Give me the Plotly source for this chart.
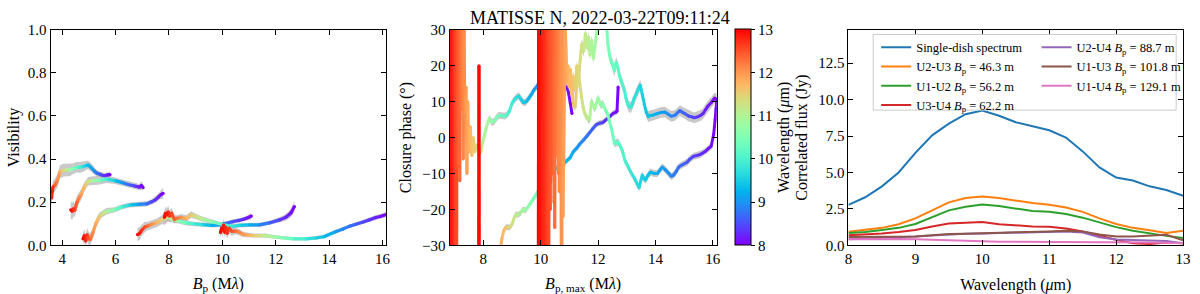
import math
import plotly.graph_objects as go

FONT = "Liberation Serif"

# ---------------- right panel: correlated flux spectra ----------------
wavelength = [8.0, 8.25, 8.5, 8.75, 9.0, 9.25, 9.5, 9.75, 10.0, 10.25, 10.5,
              10.75, 11.0, 11.25, 11.5, 11.75, 12.0, 12.25, 12.5, 12.75, 13.0]
flux_single = [2.78, 3.3, 4.05, 5.0, 6.35, 7.55, 8.35, 9.0, 9.25, 8.9, 8.45,
               8.2, 7.9, 7.4, 6.45, 5.35, 4.65, 4.45, 4.05, 3.8, 3.4]
flux_U2U3 = [0.93, 1.05, 1.2, 1.45, 1.85, 2.4, 2.95, 3.25, 3.35, 3.25, 3.05,
             2.9, 2.78, 2.6, 2.3, 1.85, 1.47, 1.2, 1.04, 0.85, 1.0]
flux_U1U2 = [0.85, 0.92, 1.05, 1.2, 1.47, 1.95, 2.4, 2.65, 2.8, 2.7, 2.5,
             2.35, 2.3, 2.15, 1.9, 1.55, 1.25, 1.0, 0.8, 0.65, 0.5]
flux_U3U4 = [0.7, 0.75, 0.82, 0.92, 1.05, 1.3, 1.5, 1.55, 1.6, 1.45, 1.35,
             1.3, 1.28, 1.15, 0.95, 0.65, 0.38, 0.15, 0.1, 0.2, 0.15]
flux_U2U4 = [0.42, 0.46, 0.5, 0.55, 0.6, 0.68, 0.75, 0.8, 0.82, 0.84, 0.85,
             0.87, 0.9, 0.95, 0.88, 0.55, 0.4, 0.35, 0.3, 0.3, 0.15]
flux_U1U3 = [0.58, 0.58, 0.58, 0.59, 0.6, 0.7, 0.78, 0.8, 0.82, 0.85, 0.87,
             0.9, 0.95, 1.0, 0.95, 0.75, 0.6, 0.6, 0.65, 0.72, 0.35]
flux_U1U4 = [0.42, 0.44, 0.45, 0.44, 0.42, 0.38, 0.35, 0.3, 0.25, 0.25, 0.25,
             0.25, 0.25, 0.25, 0.25, 0.24, 0.22, 0.21, 0.2, 0.18, 0.15]

spectra_names = ["Single-dish spectrum",
                 "U2-U3 <i>B</i><sub>p</sub> = 46.3 m",
                 "U1-U2 <i>B</i><sub>p</sub> = 56.2 m",
                 "U3-U4 <i>B</i><sub>p</sub> = 62.2 m",
                 "U2-U4 <i>B</i><sub>p</sub> = 88.7 m",
                 "U1-U3 <i>B</i><sub>p</sub> = 101.8 m",
                 "U1-U4 <i>B</i><sub>p</sub> = 129.1 m"]
spectra_values = [flux_single, flux_U2U3, flux_U1U2, flux_U3U4, flux_U2U4, flux_U1U3, flux_U1U4]
spectra_colors = ["#1f77b4", "#ff7f0e", "#2ca02c", "#d62728", "#9467bd", "#8c564b", "#e377c2"]
spectra_legend = ["legend", "legend", "legend", "legend", "legend2", "legend2", "legend2"]

# ---------------- left panel: visibilities ----------------
baseline_len = {"U2-U3": 46.3, "U1-U2": 56.2, "U3-U4": 62.2,
                "U2-U4": 88.7, "U1-U3": 101.8, "U1-U4": 129.1}

bp_U2U3 = [3.56, 3.6, 3.65, 3.73, 3.82, 3.91, 4.04, 4.16, 4.28, 4.4, 4.53, 4.65,
           4.78, 4.9, 4.97, 5.09, 5.2, 5.28, 5.41, 5.5, 5.6, 5.7, 5.79]
vis_U2U3 = [0.25, 0.22, 0.27, 0.28, 0.3, 0.34, 0.348, 0.35, 0.35, 0.355, 0.363, 0.362,
            0.365, 0.37, 0.373, 0.36, 0.345, 0.336, 0.33, 0.325, 0.323, 0.327, 0.328]
err_U2U3 = [0.03, 0.03, 0.03, 0.03, 0.03, 0.03, 0.03, 0.03, 0.03, 0.025, 0.025, 0.025,
            0.025, 0.02, 0.02, 0.02, 0.015, 0.015, 0.012, 0.012, 0.012, 0.012, 0.012]

bp_U1U2 = [4.32, 4.37, 4.42, 4.47, 4.55, 4.63, 4.72, 4.84, 4.97, 5.16, 5.41, 5.66,
           5.97, 6.22, 6.47, 6.72, 6.9, 6.97, 7.03]
vis_U1U2 = [0.165, 0.158, 0.17, 0.162, 0.2, 0.22, 0.238, 0.275, 0.297, 0.3, 0.302, 0.307,
            0.3, 0.292, 0.282, 0.275, 0.27, 0.278, 0.268]
err_U1U2 = [0.04, 0.04, 0.035, 0.03, 0.03, 0.025, 0.025, 0.02, 0.02, 0.02, 0.02, 0.018,
            0.015, 0.015, 0.015, 0.015, 0.015, 0.02, 0.015]

bp_U3U4 = [4.78, 4.83, 4.88, 4.93, 4.98, 5.04, 5.1, 5.16, 5.28, 5.38, 5.47, 5.66,
           5.97, 6.22, 6.53, 6.85, 7.16, 7.35, 7.5, 7.6, 7.7, 7.78]
vis_U3U4 = [0.03, 0.045, 0.02, 0.05, 0.035, 0.026, 0.04, 0.063, 0.107, 0.13, 0.143, 0.158,
            0.165, 0.178, 0.187, 0.19, 0.192, 0.202, 0.212, 0.224, 0.235, 0.241]
err_U3U4 = [0.03, 0.03, 0.03, 0.03, 0.03, 0.03, 0.025, 0.025, 0.02, 0.02, 0.015, 0.015,
            0.012, 0.012, 0.012, 0.012, 0.012, 0.012, 0.015, 0.015, 0.02, 0.025]

bp_U2U4 = [6.82, 6.9, 6.98, 7.09, 7.2, 7.4, 7.55, 7.72, 7.85, 7.95, 8.15, 8.4,
           8.65, 8.9, 9.27, 9.6, 9.9, 10.1, 10.39, 10.6, 10.77, 10.95, 11.09]
vis_U2U4 = [0.05, 0.055, 0.07, 0.085, 0.09, 0.1, 0.105, 0.118, 0.125, 0.13, 0.12, 0.112,
            0.104, 0.1, 0.096, 0.093, 0.095, 0.1, 0.11, 0.115, 0.12, 0.128, 0.136]
err_U2U4 = [0.03, 0.03, 0.025, 0.025, 0.02, 0.02, 0.02, 0.02, 0.03, 0.02, 0.015, 0.012,
            0.012, 0.01, 0.01, 0.01, 0.01, 0.01, 0.01, 0.01, 0.01, 0.012, 0.015]

bp_U1U3 = [7.83, 7.87, 7.92, 7.97, 8.03, 8.1, 8.2, 8.3, 8.45, 8.65, 8.83, 9.02,
           9.27, 9.58, 9.9, 10.2, 10.39, 10.64, 11.02, 11.39, 11.76, 12.14, 12.38, 12.57, 12.7]
vis_U1U3 = [0.13, 0.15, 0.14, 0.155, 0.135, 0.15, 0.12, 0.125, 0.13, 0.124, 0.143, 0.133,
            0.121, 0.11, 0.1, 0.092, 0.088, 0.093, 0.095, 0.095, 0.104, 0.118, 0.13, 0.15, 0.18]
err_U1U3 = [0.03, 0.03, 0.03, 0.03, 0.025, 0.025, 0.02, 0.015, 0.015, 0.015, 0.015, 0.012,
            0.012, 0.01, 0.01, 0.01, 0.01, 0.01, 0.01, 0.01, 0.01, 0.012, 0.015, 0.02, 0.025]

bp_U1U4 = [9.93, 9.97, 10.01, 10.05, 10.09, 10.13, 10.18, 10.25, 10.35, 10.52, 10.65, 10.77,
           10.95, 11.14, 11.4, 11.64, 11.9, 12.14, 12.4, 12.64, 13.13, 13.5, 13.8, 14.24,
           14.5, 14.75, 15.0, 15.25, 15.5, 15.75, 15.95, 16.14]
vis_U1U4 = [0.06, 0.08, 0.07, 0.095, 0.06, 0.085, 0.055, 0.08, 0.065, 0.066, 0.06, 0.051,
            0.048, 0.045, 0.045, 0.045, 0.04, 0.037, 0.033, 0.031, 0.03, 0.034, 0.04, 0.063,
            0.075, 0.088, 0.098, 0.107, 0.118, 0.129, 0.135, 0.143]
err_U1U4 = [0.03, 0.03, 0.03, 0.03, 0.03, 0.03, 0.025, 0.025, 0.02, 0.015, 0.015, 0.012,
            0.01, 0.01, 0.01, 0.01, 0.008, 0.008, 0.008, 0.008, 0.008, 0.008, 0.008, 0.008,
            0.008, 0.008, 0.01, 0.01, 0.01, 0.012, 0.012, 0.012]

vis_sets = [("U2-U3", bp_U2U3, vis_U2U3, err_U2U3),
            ("U1-U2", bp_U1U2, vis_U1U2, err_U1U2),
            ("U3-U4", bp_U3U4, vis_U3U4, err_U3U4),
            ("U2-U4", bp_U2U4, vis_U2U4, err_U2U4),
            ("U1-U3", bp_U1U3, vis_U1U3, err_U1U3),
            ("U1-U4", bp_U1U4, vis_U1U4, err_U1U4)]

# ---------------- middle panel: closure phases ----------------
# triangle U2-U3-U4 (longest baseline 88.7 m); noisy part runs far off-scale
cpA_noisy_x = [6.82, 6.84, 6.86, 6.88, 6.9, 6.92, 6.97, 6.99, 7.01, 7.03, 7.05, 7.07, 7.09,
               7.12, 7.15, 7.18, 7.21, 7.24, 7.27, 7.3, 7.33, 7.36, 7.4, 7.43, 7.46, 7.5,
               7.55, 7.6, 7.65, 7.7, 7.75]
cpA_noisy_y = [-80, 80, -80, 80, -80, 80, 85, -80, 80, -80, 80, -80, 80,
               -8, 60, -12, 50, 8, 45, -6, 30, 6, 14, -10, 10, -4, 3, -5, 0, -4, -2]
cpA_x = [7.8, 7.86, 7.92, 7.98, 8.04, 8.09, 8.15, 8.21, 8.3, 8.38, 8.46, 8.55, 8.67, 8.78,
         8.9, 9.01, 9.13, 9.24, 9.32, 9.41, 9.5, 9.59, 9.68, 9.76, 9.85, 9.93, 10.01, 10.1,
         10.16, 10.22, 10.3, 10.39, 10.47, 10.56, 10.62, 10.68, 10.74, 10.79, 10.85, 10.91,
         10.97, 11.03, 11.09]
cpA_y = [-3.4, -2.5, -4, -1.2, 0.5, 2.3, 4, 5.3, 4.2, 4.5, 5.5, 6.2, 6, 6, 7.1, 9.7, 11, 11.6,
         10.5, 9.7, 10, 11, 12, 13.2, 14, 15, 15.2, 15.4, 15.1, 15.9, 15.2, 14.1, 13.2, 12.4,
         11.5, 11.8, 12.8, 13.2, 14, 14.1, 12.5, 9.7, 6.7]
cpA_err = 1.0

# triangle U1-U2-U3 (longest baseline 101.8 m)
cpB_noisy_x = [7.83, 7.85, 7.87, 7.95, 8.1, 8.3, 8.5, 8.6]
cpB_noisy_y = [-80, 20, -80, -60, -50, -45, -38, -31]
cpB_x = [8.65, 8.72, 8.78, 8.84, 8.93, 9.01, 9.07, 9.13, 9.2, 9.3, 9.38, 9.47, 9.55, 9.64,
         9.75, 9.87, 9.95, 10.04, 10.13, 10.22, 10.33, 10.45, 10.55, 10.62, 10.7, 10.79, 10.9,
         11.03, 11.14, 11.25, 11.36, 11.48, 11.6, 11.71, 11.82, 11.94, 12.05, 12.17, 12.25,
         12.34, 12.43, 12.52, 12.63, 12.66, 12.7]
cpB_y = [-28, -25.8, -25, -24.9, -25, -24, -22.5, -21.4, -21.5, -21, -20, -20.3, -19.5, -18.3,
         -17, -15.6, -14, -13, -12.8, -11.8, -10.5, -9.6, -8.5, -8.2, -8, -7.4, -6.5, -5.6,
         -3.9, -3, -1.8, -0.8, 0.3, 1.4, 2.5, 3.6, 4, 4.2, 4.8, 5.3, 6, 6.7, 7.1, 7.3, 14.1]
cpB_err = 0.8

# triangle U1-U3-U4 (longest baseline 129.1 m)
cpC_noisy_x = [9.91, 9.935, 9.96, 9.985, 10.01, 10.035, 10.06, 10.085, 10.11, 10.135, 10.16,
               10.2, 10.22, 10.24, 10.26, 10.28, 10.3, 10.33, 10.37, 10.41, 10.45, 10.49,
               10.53, 10.57, 10.61, 10.65, 10.69, 10.73, 10.76, 10.8, 10.83, 10.9]
cpC_noisy_y = [-80, 80, -80, 80, -80, 80, -80, 80, -80, 80, -80,
               -85, 80, -80, 80, -80, 80, -20, 60, -10, 60, -25, 60, -5, 60, -15, 60, -80,
               60, -8, 40, 16]
cpC_x = [10.97, 11.03, 11.09, 11.15, 11.2, 11.26, 11.31, 11.37, 11.43, 11.5, 11.56, 11.62,
         11.67, 11.72, 11.78, 11.84, 11.9, 11.95, 12.02, 12.1, 12.2, 12.3, 12.34, 12.4, 12.46,
         12.52, 12.57, 12.63, 12.69, 12.75, 12.8, 12.86, 12.92, 12.97, 13.03, 13.09, 13.15,
         13.2, 13.26, 13.32, 13.4, 13.47, 13.54, 13.61, 13.68, 13.75, 13.83, 13.9, 14.0,
         14.07, 14.2, 14.33, 14.45, 14.55, 14.68, 14.78, 14.85, 14.95, 15.02, 15.15, 15.25,
         15.35, 15.48, 15.58, 15.66, 15.75, 15.83, 15.94, 16.06, 16.14]
cpC_y = [14.6, 19, 12, 17, 13, 20, 15, 21, 26, 24, 29, 25, 28, 23, 27, 22, 26, 29, 34, 40,
         38, 31, 26, 23, 21, 20, 18.5, 21, 19.5, 17, 15.9, 14.5, 13.2, 11, 9.3, 8.5, 8.4, 9.5,
         11, 11.9, 13.5, 14.6, 12, 9.3, 7, 5.8, 6.2, 6.2, 6.5, 6.7, 7, 7.1, 6.5, 5.9, 6.2, 7,
         7.5, 7, 6.7, 6, 5.8, 5.5, 5.8, 6.2, 6.7, 7.8, 8.8, 9.7, 11, 10.6]
cpC_err = 1.5

# triangle U1-U2-U4 (longest baseline 129.1 m)
cpD_noisy_x = [9.93, 10.3, 10.35, 10.4, 10.47, 10.55, 10.62, 10.7, 10.78, 10.85, 10.9]
cpD_noisy_y = [80, 90, -12, 70, -18, 60, -10, 50, -22, 35, 18]
cpD_x = [10.95, 11.0, 11.05, 11.1, 11.15, 11.2, 11.25, 11.31, 11.37, 11.43, 11.48, 11.54,
         11.6, 11.66, 11.71, 11.77, 11.83, 11.89, 11.94, 12.0, 12.05, 12.1, 12.16, 12.21,
         12.27, 12.33, 12.4, 12.46, 12.52, 12.57, 12.63, 12.69, 12.75, 12.8, 12.86, 12.92,
         12.97, 13.03, 13.1, 13.2, 13.28, 13.37, 13.43, 13.49, 13.54, 13.6, 13.66, 13.74,
         13.83, 13.95, 14.07, 14.16, 14.24, 14.35, 14.47, 14.55, 14.64, 14.72, 14.81, 14.95,
         15.1, 15.2, 15.33, 15.45, 15.56, 15.65, 15.73, 15.85, 15.94, 16.03, 16.08, 16.11, 16.14]
cpD_y = [20, 14, 18, 12, 9, 8.4, 13, 18.9, 14.6, 11, 8.4, 6.5, 5.8, 5, 4.9, 10.2, 9, 8, 9.5,
         11, 10, 8.9, 9.5, 8.4, 7.5, 6.7, 4.5, 2.7, 0.5, -1.7, -1.5, -1.2, -2, -2.8, -4, -6,
         -7, -7.8, -9, -10.4, -11.5, -13, -14, -12, -10.4, -11.5, -11.8, -10.5, -9.6, -10,
         -10, -9, -8.2, -9, -10, -10.8, -10.4, -9.5, -8.2, -7.5, -6.9, -6, -5.2, -5, -4.7,
         -4.3, -3.9, -3, -2.5, 1, 5, 8, 10.6]
cpD_err = 1.0

phase_sets = [(88.7, cpA_noisy_x, cpA_noisy_y, cpA_x, cpA_y, cpA_err),
              (101.8, cpB_noisy_x, cpB_noisy_y, cpB_x, cpB_y, cpB_err),
              (129.1, cpC_noisy_x, cpC_noisy_y, cpC_x, cpC_y, cpC_err),
              (129.1, cpD_noisy_x, cpD_noisy_y, cpD_x, cpD_y, cpD_err)]

WL_MIN, WL_MAX = 8.0, 13.0
colorbar_ticks = [8, 9, 10, 11, 12, 13]


def rainbow(lam):
    """matplotlib 'rainbow' colormap evaluated at a wavelength."""
    t = (lam - WL_MIN) / (WL_MAX - WL_MIN)
    t = min(max(t, 0.0), 1.0)
    r = min(max(abs(2 * t - 0.5), 0.0), 1.0)
    g = min(max(math.sin(math.pi * t), 0.0), 1.0)
    b = min(max(math.cos(math.pi * t / 2), 0.0), 1.0)
    return "rgb(%d,%d,%d)" % (round(r * 255), round(g * 255), round(b * 255))


rainbow_scale = [[i / 20, rainbow(WL_MIN + (WL_MAX - WL_MIN) * i / 20)] for i in range(21)]

fig = go.Figure()
BAND = "rgba(165,165,165,0.6)"


def add_band(xs, lo, hi, xa, ya):
    fig.add_trace(go.Scatter(x=list(xs) + list(xs)[::-1], y=list(hi) + list(lo)[::-1],
                             fill="toself", fillcolor=BAND, line=dict(width=0),
                             mode="lines", hoverinfo="skip", showlegend=False,
                             xaxis=xa, yaxis=ya))


def add_gradient(xs, ys, B, xa, ya, width):
    for i in range(len(xs) - 1):
        lam = B / (0.5 * (xs[i] + xs[i + 1]))
        fig.add_trace(go.Scatter(x=[xs[i], xs[i + 1]], y=[ys[i], ys[i + 1]], mode="lines",
                                 line=dict(color=rainbow(lam), width=width),
                                 hoverinfo="skip", showlegend=False, xaxis=xa, yaxis=ya))
    fig.add_trace(go.Scatter(x=xs, y=ys, mode="markers",
                             marker=dict(size=width, color=[rainbow(B / x) for x in xs], line=dict(width=0)),
                             hoverinfo="skip", showlegend=False, xaxis=xa, yaxis=ya))


# left panel
for name, bx, v, e in vis_sets:
    add_band(bx, [a - b for a, b in zip(v, e)], [a + b for a, b in zip(v, e)], "x", "y")
for name, bx, v, e in vis_sets:
    add_gradient(bx, v, baseline_len[name], "x", "y", 3.2)

# middle panel
for B, nx, ny, px, py, pe in phase_sets:
    add_band(px, [a - pe for a in py], [a + pe for a in py], "x2", "y2")
for B, nx, ny, px, py, pe in phase_sets:
    add_gradient(nx + px, ny + py, B, "x2", "y2", 3.0)

# colorbar
fig.add_trace(go.Scatter(
    x=[None], y=[None], mode="markers", xaxis="x2", yaxis="y2", showlegend=False,
    marker=dict(color=[WL_MIN], cmin=WL_MIN, cmax=WL_MAX, colorscale=rainbow_scale, showscale=True,
                colorbar=dict(x=738 / 1200, xanchor="left", xref="paper", y=1 - 251 / 294, yanchor="bottom",
                              len=228 / 294, lenmode="fraction", thickness=16, thicknessmode="pixels",
                              xpad=0, ypad=0, outlinewidth=1, outlinecolor="black",
                              ticks="outside", ticklen=4, tickcolor="black", tickvals=colorbar_ticks,
                              tickfont=dict(family=FONT, size=15, color="black"),
                              title=dict(text="Wavelength (<i>μ</i>m)", side="right",
                                         font=dict(family=FONT, size=16, color="black"))))))

# right panel
for name, vals, col, lg in zip(spectra_names, spectra_values, spectra_colors, spectra_legend):
    fig.add_trace(go.Scatter(x=wavelength, y=vals, mode="lines", name=name,
                             line=dict(color=col, width=2), xaxis="x3", yaxis="y3", legend=lg))

ydom = [1 - 251 / 294, 1 - 23 / 294]
axis_common = dict(showline=True, linecolor="black", linewidth=1, mirror="ticks", ticks="inside",
                   ticklen=5, tickwidth=1, tickcolor="black", showgrid=False, zeroline=False,
                   tickfont=dict(family=FONT, size=15, color="black"))
title_font = dict(family=FONT, size=16, color="black")

fig.update_layout(
    width=1200, height=294, margin=dict(l=0, r=0, t=0, b=0), autosize=False,
    paper_bgcolor="white", plot_bgcolor="white",
    font=dict(family=FONT, color="black"),
    xaxis=dict(domain=[47 / 1200, 386 / 1200], range=[46.3 / 13, 129.1 / 8], tickvals=[4, 6, 8, 10, 12, 14, 16],
               title=dict(text="<i>B</i><sub>p</sub> (M<i>λ</i>)", font=title_font), anchor="y", **axis_common),
    yaxis=dict(domain=ydom, range=[0, 1], dtick=0.2, tickformat=".1f",
               title=dict(text="Visibility", font=title_font, standoff=4), anchor="x", **axis_common),
    xaxis2=dict(domain=[450 / 1200, 720 / 1200], range=[88.7 / 13, 129.1 / 8], tickvals=[8, 10, 12, 14, 16],
                title=dict(text="<i>B</i><sub>p, max</sub> (M<i>λ</i>)", font=title_font), anchor="y2", **axis_common),
    yaxis2=dict(domain=ydom, range=[-30, 30], dtick=10,
                title=dict(text="Closure phase (°)", font=title_font, standoff=6), anchor="x2", **axis_common),
    xaxis3=dict(domain=[853 / 1200, 1191 / 1200], range=[8, 13], dtick=1,
                title=dict(text="Wavelength (<i>μ</i>m)", font=title_font), anchor="y3", **axis_common),
    yaxis3=dict(domain=ydom, range=[0, 14.8], dtick=2.5, tickformat=".1f",
                title=dict(text="Correlated flux (Jy)", font=title_font, standoff=6), anchor="x3", **axis_common),
    legend=dict(x=881 / 1200, y=1 - 26 / 294, xanchor="left", yanchor="top", bgcolor="rgba(0,0,0,0)",
                borderwidth=0, font=dict(family=FONT, size=12.5, color="black"), tracegroupgap=0),
    legend2=dict(x=1043 / 1200, y=1 - 26 / 294, xanchor="left", yanchor="top", bgcolor="rgba(0,0,0,0)",
                 borderwidth=0, font=dict(family=FONT, size=12.5, color="black"), tracegroupgap=0),
    shapes=[dict(type="rect", xref="paper", yref="paper", x0=878 / 1200, x1=1184 / 1200,
                 y0=1 - 108 / 294, y1=1 - 28 / 294, line=dict(color="#cccccc", width=1),
                 fillcolor="rgba(255,255,255,0.8)", layer="above")],
    annotations=[dict(text="MATISSE N, 2022-03-22T09:11:24", x=602 / 1200, y=1 - 11 / 294,
                      xref="paper", yref="paper", showarrow=False, xanchor="center", yanchor="middle",
                      font=dict(family=FONT, size=18, color="black"))],
)

fig.write_html("out.html", config={"displayModeBar": False},
               post_script="document.body.style.margin='0';document.body.style.padding='0';"
                           "document.documentElement.style.overflow='hidden';")
